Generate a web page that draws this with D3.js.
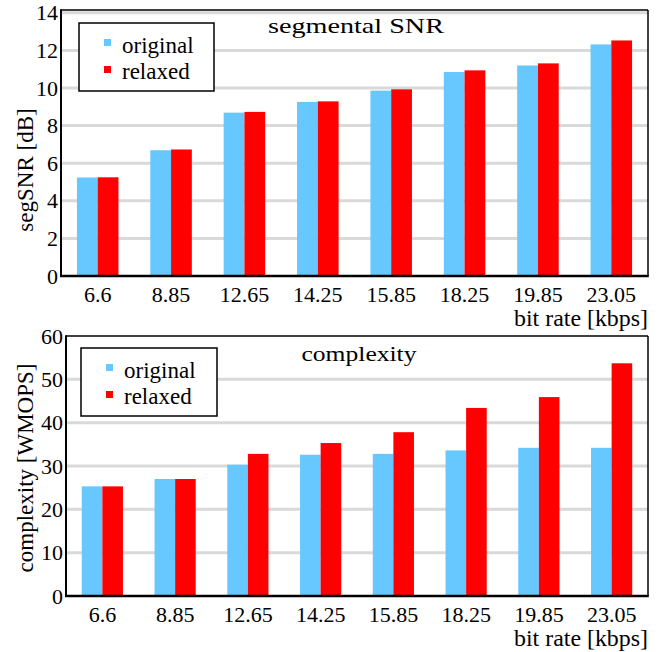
<!DOCTYPE html>
<html><head><meta charset="utf-8">
<script src="https://cdn.jsdelivr.net/npm/d3@7"></script>
<style>
body{margin:0;background:#fff;}
svg{display:block;}
</style></head>
<body>
<svg id="c" width="660" height="652"></svg>
<script>
const categories = ["6.6","8.85","12.65","14.25","15.85","18.25","19.85","23.05"];
const seriesNames = ["original","relaxed"];
const colors = ["#66c8ff","#ff0000"];
const snrOriginal = [5.24,6.69,8.69,9.26,9.86,10.85,11.2,12.32];
const snrRelaxed  = [5.25,6.73,8.73,9.29,9.93,10.94,11.31,12.53];
const cxOriginal = [25.3,27.0,30.3,32.6,32.8,33.6,34.2,34.2];
const cxRelaxed  = [25.3,27.0,32.8,35.3,37.8,43.4,45.9,53.7];
const snrTicks = [0,2,4,6,8,10,12,14];
const cxTicks = [0,10,20,30,40,50,60];

const FONT = "'Liberation Serif', 'Times New Roman', Times, serif";
const svg = d3.select("#c");

function txt(g,fs){
  return g.append("text").attr("font-family",FONT).attr("font-size",(fs||22)+"px").attr("fill","#000");
}

function panel(o){
  const g = svg.append("g");
  const x = d3.scaleBand().domain(categories).range([o.left,o.right]).padding(0);
  const y = d3.scaleLinear().domain(o.domain).range([o.bottom,o.top]);
  const bw = x.bandwidth()*0.283;
  g.selectAll(".grid").data(o.ticks.filter(t=>t>0 && y(t)>o.top+2)).enter().append("line")
    .attr("x1",o.left).attr("x2",o.right).attr("y1",d=>y(d)).attr("y2",d=>y(d))
    .attr("stroke","#d9d9d9").attr("stroke-width",3);
  const series=[o.a,o.b];
  series.forEach((vals,si)=>{
    g.selectAll(".b"+si).data(vals).enter().append("rect")
      .attr("x",(d,i)=>x(categories[i])+x.bandwidth()/2-bw+si*bw)
      .attr("width",bw)
      .attr("y",d=>y(d)).attr("height",d=>y(0)-y(d))
      .attr("fill",colors[si]);
  });
  g.append("line").attr("x1",o.left).attr("x2",o.right).attr("y1",o.top).attr("y2",o.top).attr("stroke","#000").attr("stroke-width",1.5);
  g.append("line").attr("x1",o.right).attr("x2",o.right).attr("y1",o.top).attr("y2",o.bottom).attr("stroke","#000").attr("stroke-width",1.5);
  g.append("line").attr("x1",o.left).attr("x2",o.left).attr("y1",o.top-0.75).attr("y2",o.bottom+1).attr("stroke","#000").attr("stroke-width",2);
  g.append("line").attr("x1",o.left-1).attr("x2",o.right+0.75).attr("y1",o.bottom).attr("y2",o.bottom).attr("stroke","#000").attr("stroke-width",2.5);
  o.ticks.forEach(t=>{
    txt(g,22).attr("x",o.left-3).attr("y",y(t)+7.5).attr("text-anchor","end").text(t);
  });
  categories.forEach(c=>{
    txt(g,22).attr("x",x(c)+x.bandwidth()/2).attr("y",o.bottom+26).attr("text-anchor","middle").text(c);
  });
  txt(g,23).attr("x",o.right-134).attr("y",o.bottom+50)
    .attr("textLength",134).attr("lengthAdjust","spacingAndGlyphs").text("bit rate [kbps]");
  txt(g,23).attr("transform",`translate(${o.ylx},${o.yly}) rotate(-90)`).attr("text-anchor","middle").text(o.ylabel);
  txt(g,22).attr("x",o.titleX-o.titleW/2).attr("y",o.titleY)
    .attr("textLength",o.titleW).attr("lengthAdjust","spacingAndGlyphs").text(o.title);
  const L=o.leg;
  g.append("rect").attr("x",L.x).attr("y",L.y).attr("width",L.w).attr("height",L.h)
    .attr("fill","#fff").attr("stroke","#000").attr("stroke-width",1.5);
  seriesNames.forEach((n,i)=>{
    g.append("rect").attr("x",L.x+25).attr("y",L.y+16+i*27).attr("width",7).attr("height",7).attr("fill",colors[i]);
    txt(g,23).attr("x",L.x+43).attr("y",L.y+30+i*25.5).text(n);
  });
}

panel({left:61,right:648,top:10,bottom:276,domain:[0,14.15],ticks:snrTicks,a:snrOriginal,b:snrRelaxed,
  ylabel:"segSNR [dB]",ylx:33,yly:170,title:"segmental SNR",titleX:356,titleW:176,titleY:33,
  leg:{x:79,y:23,w:135,h:68}});
panel({left:66,right:648,top:336,bottom:596,domain:[0,60],ticks:cxTicks,a:cxOriginal,b:cxRelaxed,
  ylabel:"complexity [WMOPS]",ylx:33,yly:468,title:"complexity",titleX:359,titleW:115,titleY:361,
  leg:{x:81,y:348,w:136,h:68}});
</script>
</body></html>
